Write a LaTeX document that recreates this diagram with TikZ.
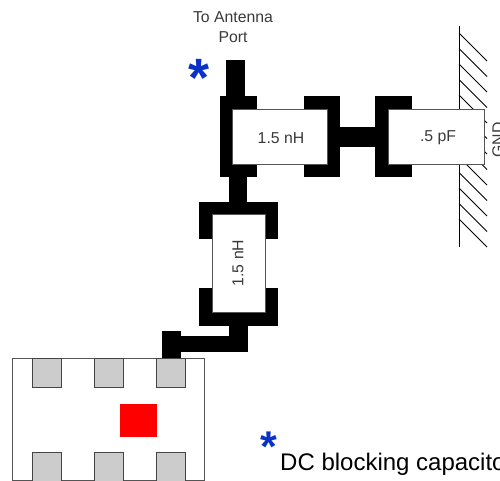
\documentclass[tikz,border=0pt]{standalone}
\usepackage{fontspec}
\setmainfont{Liberation Sans}
\definecolor{txt}{HTML}{3A3A3A}
\definecolor{edge}{HTML}{555555}
\definecolor{star}{HTML}{0A32C8}
\definecolor{padg}{HTML}{CCCCCC}
\tikzset{
  metal/.style={fill=black,draw=none},
  part/.style={fill=white,draw=edge,line width=0.9pt},
  pin/.style={fill=padg,draw=edge!80!black,line width=1pt},
  hatch/.style={draw=black,line width=0.75pt},
  lab/.style={text=txt,inner sep=0pt,font=\fontsize{15.8}{18}\selectfont},
  toplab/.style={text=txt,inner sep=0pt,font=\fontsize{15.8}{18}\selectfont},
  bluestar/.style={text=star,inner sep=0pt,anchor=base,font=\bfseries}
}
\begin{document}
\begin{tikzpicture}[x=1pt,y=-1pt]
\useasboundingbox (0,0) rectangle (500,481);
\clip (0,0) rectangle (500,481);
% ground plane
\draw[hatch] (459,26) -- (459,247);
\foreach \k in {0,...,12}{
  \draw[hatch] (459,33+15.5*\k) -- (487,61+15.5*\k);
}
% traces
\fill[metal] (226,60) rectangle (244.5,100);
\fill[metal] (229,170) rectangle (247,206);
\fill[metal] (340,127) rectangle (380,147);
\fill[metal] (229,320) rectangle (248,351.5);
\fill[metal] (161.5,335.7) rectangle (248,351.5);
\fill[metal] (161.5,331) rectangle (181,360);
% inductor 1 pads
\fill[metal] (220,96) rectangle (257,177);
\fill[metal] (303.5,96) rectangle (340,177);
% capacitor pads
\fill[metal] (375,96) rectangle (412,177);
% inductor 2 pads
\fill[metal] (199,202) rectangle (277.5,239);
\fill[metal] (199,288) rectangle (277.5,326);
% bodies
\draw[part] (232.5,109.5) rectangle (327,164.5);
\draw[part] (388.5,109.5) rectangle (484,164.5);
\draw[part] (212,214.5) rectangle (265,312.5);
\node[lab] (l1) at (281,138) {1.5 nH};
\node[lab] (c1) at (438,138) {.5 pF};
\node[lab,rotate=90] (l2) at (238,263) {1.5 nH};
\node[lab,rotate=90] (gnd) at (498,140) {GND};
% chip
\draw[part] (12.5,358) rectangle (204,480);
\foreach \x in {32,94,156}{
  \draw[pin] (\x,358) rectangle (\x+29,387.5);
  \draw[pin] (\x,452.7) rectangle (\x+29,484);
}
\fill[red] (120,403.7) rectangle (157,436.5);
% labels
\node[toplab] (ant1) at (233,17) {To Antenna};
\node[toplab] (ant2) at (233,37) {Port};
\node[bluestar,font=\fontsize{54}{54}\selectfont\bfseries] (s1) at (199,97) {*};
\node[bluestar,font=\fontsize{43}{43}\selectfont\bfseries] (s2) at (269,461) {*};
\node[anchor=base west,inner sep=0pt,font=\fontsize{24}{26}\selectfont] (dc) at (280,470) {DC blocking capacitor};
\end{tikzpicture}
\end{document}
